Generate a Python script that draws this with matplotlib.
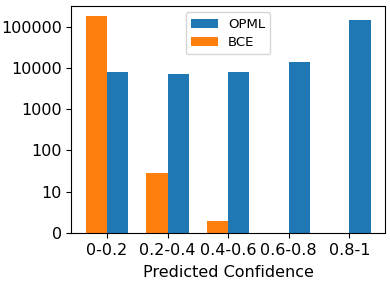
import numpy as np
import matplotlib
matplotlib.use("Agg")
import matplotlib.pyplot as plt

categories = ["0-0.2", "0.2-0.4", "0.4-0.6", "0.6-0.8", "0.8-1"]
opml = [8100, 6950, 8100, 13900, 142000]
bce = [185000, 28, 2, 0, 0]

yticks = [1, 10, 100, 1000, 10000, 100000]
ytick_labels = ["0", "10", "100", "1000", "10000", "100000"]

plt.rcParams["font.size"] = 11.5

fig, ax = plt.subplots(figsize=(3.9, 2.81), dpi=100)
x = np.arange(len(categories))
w = 0.35
ax.bar(x + w / 2, opml, w, color="#1f77b4", label="OPML")
ax.bar(x - w / 2, bce, w, color="#ff7f0e", label="BCE")
ax.set_yscale("log")
ax.set_ylim(1, 3.2e5)
ax.set_yticks(yticks)
ax.set_yticklabels(ytick_labels)
ax.minorticks_off()
ax.set_xticks(x)
ax.set_xticklabels(categories)
ax.set_xlabel("Predicted Confidence", labelpad=5)
ax.legend(loc="upper center", fontsize=9.5, labelspacing=0.4)
fig.subplots_adjust(left=0.183, right=0.987, top=0.979, bottom=0.171)
fig.savefig("out.png")
